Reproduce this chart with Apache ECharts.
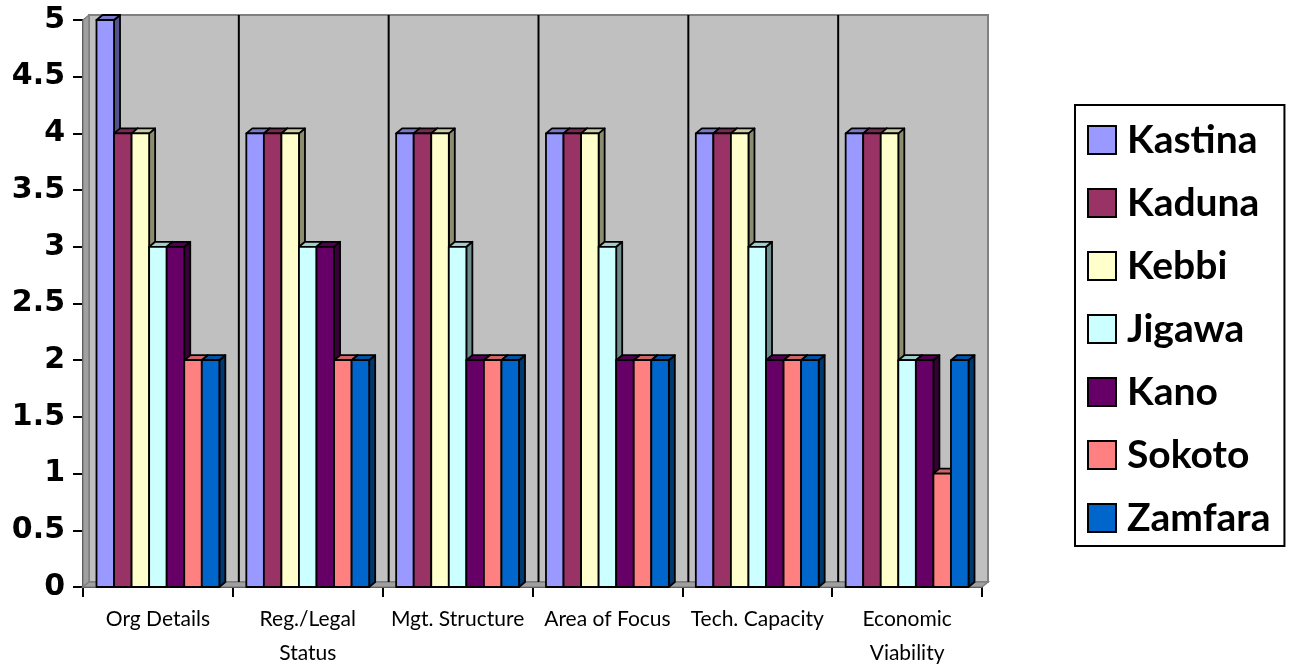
<!DOCTYPE html>
<html>
<head>
<meta charset="utf-8">
<script src="https://cdn.jsdelivr.net/npm/echarts@6/dist/echarts.min.js"></script>
<style>
  html, body { margin: 0; padding: 0; background: #ffffff; }
  #chart { width: 1296px; height: 665px; }
</style>
</head>
<body>
<div id="chart"></div>
<script>
// Assessment criteria and scores per state
const categories = ['Org Details', 'Reg./Legal\nStatus', 'Mgt. Structure', 'Area of Focus', 'Tech. Capacity', 'Economic\nViability'];
const states = ['Kastina', 'Kaduna', 'Kebbi', 'Jigawa', 'Kano', 'Sokoto', 'Zamfara'];
const kastina = [5, 4, 4, 4, 4, 4];
const kaduna  = [4, 4, 4, 4, 4, 4];
const kebbi   = [4, 4, 4, 4, 4, 4];
const jigawa  = [3, 3, 3, 3, 3, 2];
const kano    = [3, 3, 2, 2, 2, 2];
const sokoto  = [2, 2, 2, 2, 2, 1];
const zamfara = [2, 2, 2, 2, 2, 2];
const yTicks = { min: 0, max: 5, interval: 0.5 };

const seriesValues = [kastina, kaduna, kebbi, jigawa, kano, sokoto, zamfara];
const colors = ['#9999FF', '#993366', '#FFFFCC', '#CCFFFF', '#660066', '#FF8080', '#0066CC'];

// Oblique depth used for the pseudo-3D look
const DX = 6, DY = 5;
const GROUP_RATIO = 0.82;

function shade(hex, f) {
  const n = parseInt(hex.slice(1), 16);
  const r = Math.round(((n >> 16) & 255) * f);
  const g = Math.round(((n >> 8) & 255) * f);
  const b = Math.round((n & 255) * f);
  return 'rgb(' + Math.min(r, 255) + ',' + Math.min(g, 255) + ',' + Math.min(b, 255) + ')';
}

// Back wall, side wall, floor and category dividers
function renderWalls(params, api) {
  const catW = api.size([1, 0])[0];
  const origin = api.coord([0, yTicks.min]);
  const left = origin[0] - catW / 2;
  const right = left + categories.length * catW;
  const bottom = origin[1];
  const top = api.coord([0, yTicks.max])[1];
  const children = [
    { type: 'polygon', shape: { points: [[left + DX, top - DY], [right + DX, top - DY], [right + DX, bottom - DY], [left + DX, bottom - DY]] },
      style: { fill: '#C0C0C0', stroke: '#808080', lineWidth: 2 } },
    { type: 'polygon', shape: { points: [[left, top], [left + DX, top - DY], [left + DX, bottom - DY], [left, bottom]] },
      style: { fill: '#A0A0A0', stroke: '#808080', lineWidth: 1.5 } },
    { type: 'polygon', shape: { points: [[left, bottom], [left + DX, bottom - DY], [right + DX, bottom - DY], [right, bottom]] },
      style: { fill: '#A0A0A0', stroke: '#808080', lineWidth: 1.5 } }
  ];
  for (let k = 1; k < categories.length; k++) {
    const x = left + k * catW + DX;
    children.push({ type: 'line', shape: { x1: x, y1: top - DY, x2: x, y2: bottom - DY },
      style: { stroke: '#000', lineWidth: 2 } });
  }
  return { type: 'group', children: children };
}

function makeBarRenderer(si) {
  const base = colors[si];
  return function (params, api) {
    const cat = api.value(0);
    const val = api.value(1);
    const p0 = api.coord([cat, 0]);
    const p1 = api.coord([cat, val]);
    const catW = api.size([1, 0])[0];
    const groupW = catW * GROUP_RATIO;
    const bw = groupW / states.length;
    const x0 = p0[0] - groupW / 2 + si * bw;
    const x1 = x0 + bw;
    const yb = p0[1], yt = p1[1];
    const stroke = { stroke: '#000', lineWidth: 1.8, lineJoin: 'round' };
    return {
      type: 'group',
      children: [
        { type: 'polygon', shape: { points: [[x1, yt], [x1 + DX, yt - DY], [x1 + DX, yb - DY], [x1, yb]] },
          style: Object.assign({ fill: shade(base, 0.55) }, stroke) },
        { type: 'polygon', shape: { points: [[x0, yt], [x0 + DX, yt - DY], [x1 + DX, yt - DY], [x1, yt]] },
          style: Object.assign({ fill: shade(base, 0.8) }, stroke) },
        { type: 'rect', shape: { x: x0, y: yt, width: bw, height: yb - yt },
          style: Object.assign({ fill: base }, stroke) }
      ]
    };
  };
}

const series = [{
  type: 'custom',
  name: '__walls',
  renderItem: renderWalls,
  data: [[0, 0]],
  silent: true,
  z: 1
}];
states.forEach(function (name, si) {
  series.push({
    type: 'custom',
    name: name,
    renderItem: makeBarRenderer(si),
    itemStyle: { color: colors[si], borderColor: '#000', borderWidth: 2 },
    data: seriesValues[si].map(function (v, ci) { return [ci, v]; }),
    z: 2
  });
});

const chart = echarts.init(document.getElementById('chart'), null, { renderer: 'canvas' });
chart.setOption({
  animation: false,
  backgroundColor: '#ffffff',
  grid: { left: 83, right: 314, top: 20, bottom: 78, containLabel: false, outerBoundsMode: 'none' },
  legend: {
    data: states,
    orient: 'vertical',
    left: 1075,
    top: 105,
    icon: 'rect',
    itemWidth: 28,
    itemHeight: 28,
    itemGap: 23,
    itemStyle: { borderColor: '#000', borderWidth: 2 },
    padding: [15, 14, 8, 12],
    borderColor: '#000',
    borderWidth: 2,
    backgroundColor: '#fff',
    textStyle: {
      fontFamily: 'Lato', fontWeight: 'bold', fontSize: 39, color: '#000', lineHeight: 40,
      padding: [0, 0, 0, 6]
    },
    selectedMode: false
  },
  xAxis: {
    type: 'category',
    data: categories,
    axisLine: { lineStyle: { color: '#000', width: 2 } },
    axisTick: { show: true, length: 10, lineStyle: { color: '#000', width: 2 } },
    axisLabel: { color: '#000', fontFamily: 'Lato', fontSize: 21, lineHeight: 34, margin: 15, interval: 0 },
    splitLine: { show: false }
  },
  yAxis: {
    type: 'value',
    min: yTicks.min,
    max: yTicks.max,
    interval: yTicks.interval,
    axisLine: { show: true, lineStyle: { color: '#000', width: 2 } },
    axisTick: { show: true, length: 10, lineStyle: { color: '#000', width: 2 } },
    axisLabel: {
      color: '#000', fontFamily: 'DejaVu Sans', fontWeight: 'bold', fontSize: 30, margin: 18,
      verticalAlign: 'middle', padding: [6, 0, 0, 0], overflow: 'none'
    },
    splitLine: { show: false }
  },
  series: series
});
</script>
</body>
</html>
